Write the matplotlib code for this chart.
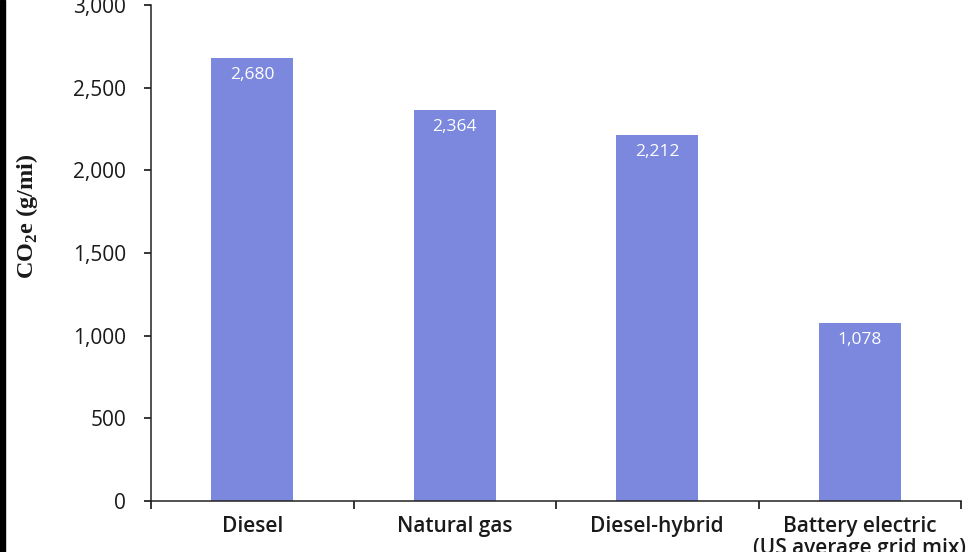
import numpy as np
import matplotlib
matplotlib.use("Agg")
import matplotlib.pyplot as plt
from matplotlib.patches import Rectangle

# Datos del grafico
categorias = ["Diesel", "Natural gas", "Diesel-hybrid", "Battery electric\n(US average grid mix)"]
emisiones = [2680, 2364, 2212, 1078]
etiquetas_valor = ["2,680", "2,364", "2,212", "1,078"]
ticks_y = [0, 500, 1000, 1500, 2000, 2500, 3000]
etiquetas_y = ["0", "500", "1,000", "1,500", "2,000", "2,500", "3,000"]

color_barra = "#7b88dd"
fuente = ["Open Sans", "DejaVu Sans"]

fig = plt.figure(figsize=(9.8, 5.52), dpi=100)
ax = fig.add_axes([151 / 980, 1 - 501 / 552, 810 / 980, 496 / 552])

x = np.arange(len(categorias))
ax.bar(x, emisiones, width=0.405, color=color_barra, zorder=2)

# Valores en blanco dentro de cada barra
for xi, valor, texto in zip(x, emisiones, etiquetas_valor):
    ax.annotate(texto, (xi, valor), xytext=(0, -17), textcoords="offset pixels",
                ha="center", va="center", color="white", fontsize=12.5, family=fuente)

ax.set_xlim(-0.5, len(categorias) - 0.5)
ax.set_ylim(0, 3000)

# Eje y
ax.set_yticks(ticks_y)
ax.set_yticklabels(etiquetas_y, family=fuente, fontsize=15, color="#1a1a1a")
ax.tick_params(axis="y", direction="out", length=5, width=1.1, pad=13)

# Eje x: ticks en los limites de cada categoria, etiquetas en el centro
ax.set_xticks(np.arange(len(categorias) + 1) - 0.5)
ax.set_xticklabels([])
ax.set_xticks(x, minor=True)
ax.set_xticklabels(categorias, minor=True, family=fuente, fontsize=15,
                   fontweight="semibold", color="#1a1a1a", linespacing=1.05)
ax.tick_params(axis="x", which="major", direction="out", length=6, width=1.1)
ax.tick_params(axis="x", which="minor", length=0, pad=11)

for lado in ["top", "right"]:
    ax.spines[lado].set_visible(False)
for lado in ["left", "bottom"]:
    ax.spines[lado].set_linewidth(1.1)
    ax.spines[lado].set_color("#222222")

fig.text(27 / 980, 1 - 216 / 552, "CO$_\\mathregular{2}$e (g/mi)", rotation=90,
         ha="center", va="center", fontsize=17.5, fontweight="bold",
         family="Liberation Serif", color="#1a1a1a")

# Borde negro a la izquierda de la captura
fig.add_artist(Rectangle((0, 0), 5 / 980, 1, transform=fig.transFigure,
                         color="black", zorder=5))

fig.savefig("out.png", dpi=100)
